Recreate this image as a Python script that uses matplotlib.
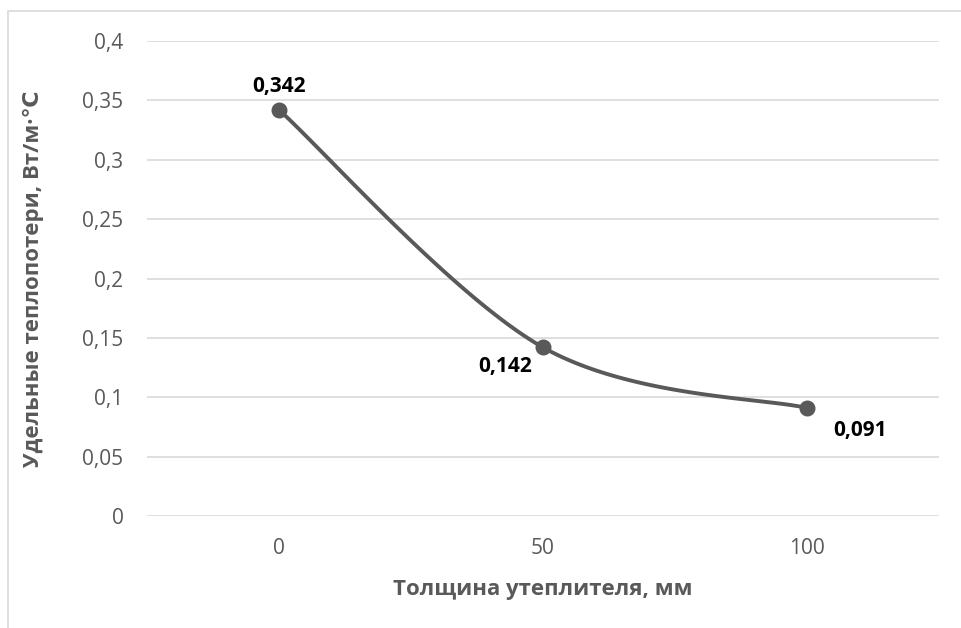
import numpy as np
import matplotlib.pyplot as plt
from matplotlib.patches import Rectangle

plt.rcParams['font.family'] = ['Open Sans', 'DejaVu Sans']

# данные
categories = ['0', '50', '100']
values = [0.342, 0.142, 0.091]
labels = ['0,342', '0,142', '0,091']
yticks = [0, 0.05, 0.1, 0.15, 0.2, 0.25, 0.3, 0.35, 0.4]
ytick_labels = ['0', '0,05', '0,1', '0,15', '0,2', '0,25', '0,3', '0,35', '0,4']

gray = '#595959'
grid = '#d9d9d9'

fig = plt.figure(figsize=(9.61, 6.28), dpi=100)
ax = fig.add_axes([147/961, 1 - 516/628, 792/961, 475/628])

# рамка диаграммы
fig.patches.append(Rectangle((8/961, -0.1), 1.2, 1 - 11/628 + 0.1, transform=fig.transFigure,
                             fill=False, edgecolor=grid, linewidth=1.2))

x = np.arange(len(categories))
ax.set_xlim(-0.5, len(categories) - 0.5)
ax.set_ylim(0, 0.4)
ax.set_yticks(yticks)
ax.set_yticklabels(ytick_labels)
ax.set_xticks(x)
ax.set_xticklabels(categories)
ax.tick_params(length=0, colors=gray, labelsize=15)
ax.tick_params(axis='y', pad=17)
ax.tick_params(axis='x', pad=16)
for s in ax.spines.values():
    s.set_visible(False)
ax.grid(axis='y', color=grid, linewidth=1.2)
ax.set_axisbelow(True)

# сглаженная линия (как в Excel) — кривые Безье в экранных координатах
pts = ax.transData.transform(np.column_stack([x, values]))
n = len(pts)
curve = []
for i in range(n - 1):
    p0 = pts[max(i - 1, 0)]
    p1 = pts[i]
    p2 = pts[i + 1]
    p3 = pts[min(i + 2, n - 1)]
    c1 = p1 + (p2 - p0) / 6
    c2 = p2 - (p3 - p1) / 6
    t = np.linspace(0, 1, 60)[:, None]
    seg = (1 - t)**3 * p1 + 3 * (1 - t)**2 * t * c1 + 3 * (1 - t) * t**2 * c2 + t**3 * p2
    curve.append(seg)
curve = ax.transData.inverted().transform(np.vstack(curve))
ax.plot(curve[:, 0], curve[:, 1], color=gray, linewidth=2.8, solid_capstyle='round')
ax.plot(x, values, 'o', color=gray, markersize=10.5)

offsets = [(0, 17), (-27, -14), (38, -16.5)]
for xi, v, lab, off in zip(x, values, labels, offsets):
    ax.annotate(lab, (xi, v), xytext=off, textcoords='offset points',
                ha='center', va='center', fontsize=15, fontweight='bold', color='black')

ax.set_xlabel('Толщина утеплителя, мм', fontsize=16, fontweight='bold', color=gray)
ax.set_ylabel('Удельные теплопотери, Вт/м·℃', fontsize=16, fontweight='bold', color=gray)
ax.xaxis.label.set_va('center')
ax.yaxis.label.set_va('center')
ax.xaxis.set_label_coords(0.5, -(589 - 516) / 475)
ax.yaxis.set_label_coords((33 - 147) / 792, 0.5)

fig.savefig('out.png', dpi=100)
